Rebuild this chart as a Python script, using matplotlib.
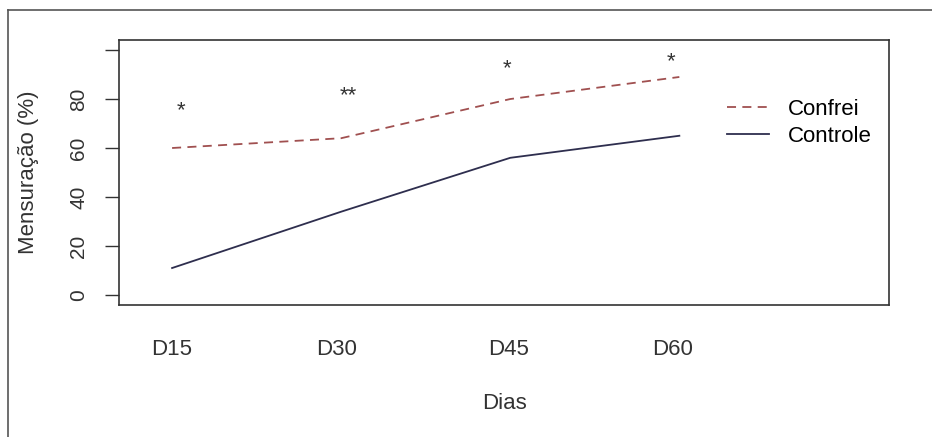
import matplotlib.pyplot as plt
from matplotlib.lines import Line2D

plt.rcParams['font.family'] = ['Liberation Sans', 'DejaVu Sans']

dias = ['D15', 'D30', 'D45', 'D60']
x_pos = [1, 2, 3, 4]
label_pos = [1.0, 1.97, 2.99, 3.96]

confrei = [60, 64, 80, 89]
controle = [11, 34, 56, 65]

# significance marks
sig_text = ['*', '**', '*', '*']
sig_x = [1.05, 2.04, 2.98, 3.95]
sig_y = [71, 77, 88, 91]

y_ticks = [0, 20, 40, 60, 80, 100]
y_labels = ['0', '20', '40', '60', '80', '']

fig = plt.figure(figsize=(9.32, 4.37), dpi=100)

# grey frame of the original figure (top and left edges)
fig.add_artist(Line2D([8 / 932, 8 / 932], [0, 1 - 10 / 437], color='#555555', lw=1.2))
fig.add_artist(Line2D([8 / 932, 1], [1 - 10 / 437, 1 - 10 / 437], color='#555555', lw=1.2))

ax = fig.add_axes([119 / 932, 1 - 305 / 437, (889 - 119) / 932, (305 - 40) / 437])

ax.plot(x_pos, confrei, color='#a05050', lw=1.3, dashes=(5, 3.5))
ax.plot(x_pos, controle, color='#2e2e4e', lw=1.3)

for tx, xx, yy in zip(sig_text, sig_x, sig_y):
    ax.text(xx, yy, tx, ha='center', va='bottom', fontsize=16, color='#333333')

ax.set_xlim(0.686, 5.24)
ax.set_ylim(-4.1, 104.1)

ax.set_yticks(y_ticks, y_labels, fontsize=15, rotation=90, va='center')
ax.tick_params(axis='y', length=10, width=1, pad=12, colors='#333333')
ax.set_xticks(label_pos, dias, fontsize=16)
ax.tick_params(axis='x', length=0, pad=24.5, colors='#333333')

for s in ax.spines.values():
    s.set_color('#333333')
    s.set_linewidth(1.2)

ax.set_xlabel('Dias', fontsize=16, labelpad=24, color='#333333')
ax.set_ylabel('Mensuração (%)', fontsize=16, labelpad=22, color='#333333')

leg = ax.legend(['Confrei', 'Controle'], loc='upper left', bbox_to_anchor=(0.775, 0.82),
                frameon=False, fontsize=16, handlelength=1.9, handletextpad=0.85,
                labelspacing=0.28, borderpad=0)

fig.savefig('out.png', dpi=100)
